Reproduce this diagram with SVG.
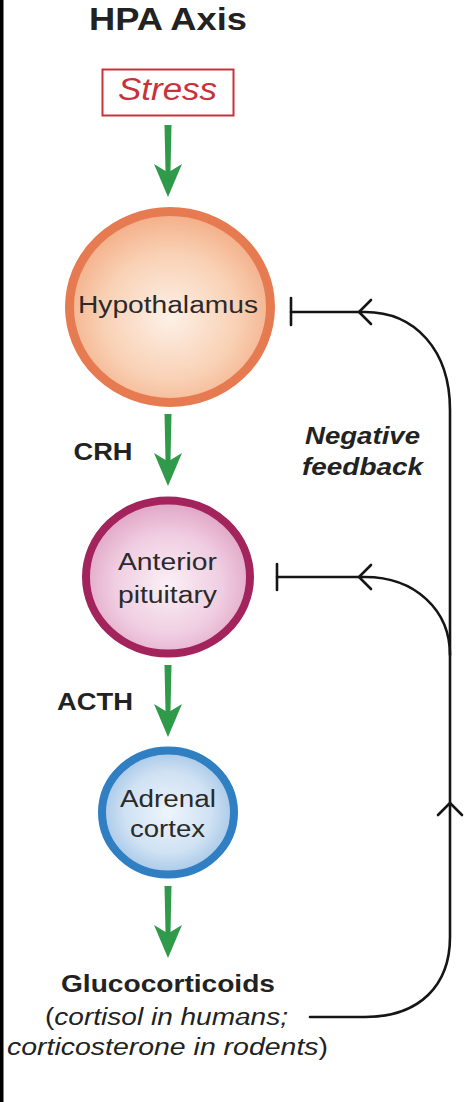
<svg xmlns="http://www.w3.org/2000/svg" width="474" height="1102" viewBox="0 0 474 1102">
  <style>
    text { font-family: "Liberation Sans", Arial, sans-serif; fill: #222; }
    .b { font-weight: bold; }
    .i { font-style: italic; }
    .lbl { font-size: 23px; text-anchor: middle; fill: #2a2a2a; }
    .fb { fill: none; stroke: #151515; stroke-width: 2.6; stroke-linecap: round; stroke-linejoin: round; }
    .grn { fill: #2f9a49; }
  </style>
  <defs>
    <radialGradient id="gH" cx="0.5" cy="0.55" r="0.55">
      <stop offset="0" stop-color="#fdf1e7"/>
      <stop offset="0.6" stop-color="#f9d1b5"/>
      <stop offset="1" stop-color="#f3ad86"/>
    </radialGradient>
    <radialGradient id="gP" cx="0.5" cy="0.55" r="0.55">
      <stop offset="0" stop-color="#faf0f6"/>
      <stop offset="0.6" stop-color="#f0cde1"/>
      <stop offset="1" stop-color="#e0a3c5"/>
    </radialGradient>
    <radialGradient id="gA" cx="0.5" cy="0.5" r="0.55">
      <stop offset="0" stop-color="#eef5fc"/>
      <stop offset="0.6" stop-color="#cfe1f3"/>
      <stop offset="1" stop-color="#9cc1e5"/>
    </radialGradient>
    <path id="garrow" d="M-3.5,0 L3.5,0 L2.5,46 L14,39 L0,72 L-14,39 L-2.5,46 Z"/>
  </defs>

  <rect x="0" y="0" width="474" height="1102" fill="#ffffff"/>
  <rect x="0" y="0" width="3.5" height="1102" fill="#000000"/>

  <g id="title">
    <text x="168" y="30" class="b" font-size="32" text-anchor="middle" textLength="158" lengthAdjust="spacingAndGlyphs">HPA Axis</text>
  </g>

  <g id="stress">
    <rect x="102.5" y="69.5" width="131" height="46" fill="#ffffff" stroke="#c8333b" stroke-width="2"/>
    <text x="167.5" y="100" class="i" font-size="31" text-anchor="middle" fill="#c8333b" style="fill:#c8333b" textLength="99" lengthAdjust="spacingAndGlyphs">Stress</text>
  </g>

  <g id="hypothalamus">
    <ellipse cx="170" cy="307" rx="100.5" ry="95.5" fill="url(#gH)" stroke="#e67b52" stroke-width="9"/>
    <text x="168" y="313" class="lbl" font-size="24" textLength="180" lengthAdjust="spacingAndGlyphs">Hypothalamus</text>
  </g>

  <g id="anterior-pituitary">
    <ellipse cx="168" cy="577" rx="82" ry="76.5" fill="url(#gP)" stroke="#a3245c" stroke-width="8"/>
    <text x="167.5" y="570" class="lbl" textLength="99" lengthAdjust="spacingAndGlyphs">Anterior</text>
    <text x="167.5" y="603" class="lbl" textLength="99" lengthAdjust="spacingAndGlyphs">pituitary</text>
  </g>

  <g id="adrenal-cortex">
    <ellipse cx="168" cy="812.5" rx="66" ry="62" fill="url(#gA)" stroke="#2f7fc2" stroke-width="8"/>
    <text x="168" y="807" class="lbl" textLength="96" lengthAdjust="spacingAndGlyphs">Adrenal</text>
    <text x="167.5" y="837" class="lbl" textLength="75" lengthAdjust="spacingAndGlyphs">cortex</text>
  </g>

  <g id="glucocorticoids">
    <text x="168" y="992" class="b" font-size="23" text-anchor="middle" textLength="214" lengthAdjust="spacingAndGlyphs">Glucocorticoids</text>
    <text x="166.5" y="1025" font-size="23" text-anchor="middle" fill="#2a2a2a" textLength="243" lengthAdjust="spacingAndGlyphs"><tspan>(</tspan><tspan class="i">cortisol in humans;</tspan></text>
    <text x="167.5" y="1055" font-size="23" text-anchor="middle" fill="#2a2a2a" textLength="321" lengthAdjust="spacingAndGlyphs"><tspan class="i">corticosterone in rodents</tspan><tspan>)</tspan></text>
  </g>

  <g id="labels">
    <text x="103" y="460" class="b" font-size="23" text-anchor="middle" textLength="59" lengthAdjust="spacingAndGlyphs">CRH</text>
    <text x="95" y="710" class="b" font-size="23" text-anchor="middle" textLength="76" lengthAdjust="spacingAndGlyphs">ACTH</text>
    <text x="362.5" y="444" class="b i" font-size="23" text-anchor="middle" textLength="115" lengthAdjust="spacingAndGlyphs">Negative</text>
    <text x="362.5" y="475" class="b i" font-size="23" text-anchor="middle" textLength="121" lengthAdjust="spacingAndGlyphs">feedback</text>
  </g>

  <g id="connectors">
    <use href="#garrow" class="grn" transform="translate(168,125)"/>
    <use href="#garrow" class="grn" transform="translate(168,414)"/>
    <use href="#garrow" class="grn" transform="translate(168,665)"/>
    <use href="#garrow" class="grn" transform="translate(168,886)"/>

    <path class="fb" d="M310,1017 L365,1017 C420,1017 450,985 450,937 L450,410 C450,350 415,312 365,312 L291,312"/>
    <path class="fb" d="M291,298 L291,325"/>
    <path class="fb" d="M371,300 L359,312 L371,324"/>

    <path class="fb" d="M450,655 C450,610 415,577 365,577 L277,577"/>
    <path class="fb" d="M277,564 L277,590"/>
    <path class="fb" d="M371,565 L359,577 L371,589"/>

    <path class="fb" d="M438,815 L450,803 L462,815"/>
  </g>
</svg>
